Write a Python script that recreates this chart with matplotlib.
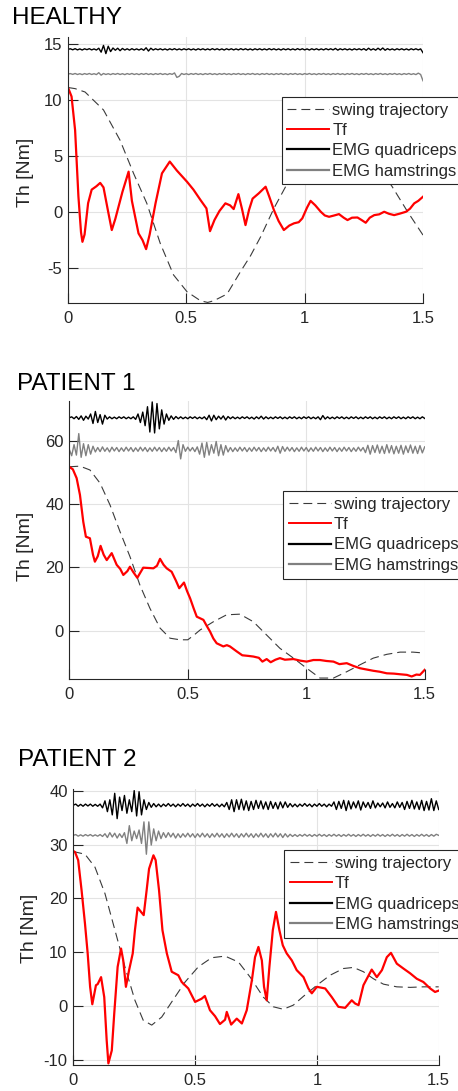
import numpy as np
import matplotlib
matplotlib.use("Agg")
import matplotlib.pyplot as plt

plt.rcParams['font.family'] = ['Liberation Sans', 'DejaVu Sans']
plt.rcParams['axes.unicode_minus'] = False

W, H = 458, 1091

titles = ["HEALTHY", "PATIENT 1", "PATIENT 2"]
legend_labels = ["swing trajectory", "Tf", "EMG quadriceps", "EMG hamstrings"]
x_ticks = [0, 0.5, 1, 1.5]
x_ticklabels = ["0", "0.5", "1", "1.5"]
y_ticks_h = [-5, 0, 5, 10, 15]
y_ticks_p1 = [0, 20, 40, 60]
y_ticks_p2 = [-10, 0, 10, 20, 30, 40]

# ---------------- HEALTHY ----------------
h_swing_t = [0, 0.03, 0.072, 0.15, 0.22, 0.277, 0.333, 0.39, 0.446, 0.503, 0.56, 0.59, 0.616,
             0.672, 0.729, 0.771, 0.814, 0.87, 0.927, 1.0, 1.07, 1.15, 1.23, 1.30, 1.37, 1.435, 1.5]
h_swing_v = [11.1, 11.0, 10.7, 9.1, 6.4, 3.45, 0.78, -2.8, -5.6, -7.1, -7.9, -8.05, -7.9,
             -7.3, -5.3, -3.9, -2.2, 0.33, 2.56, 4.9, 6.3, 6.6, 6.0, 4.4, 2.26, 0.03, -2.05]

h_tf_t = [0, 0.015, 0.03, 0.044, 0.055, 0.061, 0.07, 0.085, 0.1, 0.12, 0.136, 0.15, 0.17, 0.185,
          0.2, 0.23, 0.256, 0.27, 0.298, 0.315, 0.33, 0.345, 0.37, 0.397, 0.43, 0.46, 0.503, 0.53,
          0.56, 0.585, 0.6, 0.619, 0.64, 0.665, 0.685, 0.70, 0.72, 0.735, 0.75, 0.765, 0.78, 0.806,
          0.835, 0.85, 0.87, 0.89, 0.912, 0.935, 0.955, 0.975, 0.99, 1.01, 1.025, 1.045, 1.068,
          1.085, 1.103, 1.125, 1.145, 1.165, 1.181, 1.2, 1.223, 1.24, 1.258, 1.275, 1.294, 1.315,
          1.336, 1.356, 1.378, 1.40, 1.428, 1.445, 1.463, 1.48, 1.5]
h_tf_v = [11.1, 10.3, 7.3, 1.4, -1.8, -2.65, -2.0, 0.8, 2.0, 2.3, 2.6, 2.2, 0.0, -1.6,
          -0.6, 1.8, 3.6, 1.0, -1.9, -2.5, -3.3, -2.0, 0.8, 3.45, 4.5, 3.7, 2.7, 2.0,
          1.07, 0.33, -1.7, -0.7, 0.1, 0.78, 0.6, 0.27, 1.6, 0.3, -1.16, 0.2, 1.2, 1.67,
          2.26, 1.4, 0.18, -0.8, -1.6, -1.2, -1.0, -0.9, -0.56, 0.4, 1.0, 0.6, 0.03,
          -0.3, -0.42, -0.3, -0.18, -0.5, -0.71, -0.5, -0.48, -0.7, -0.95, -0.5, -0.27, -0.2,
          0.03, -0.15, -0.27, -0.15, 0.03, 0.3, 0.78, 1.0, 1.37]

h_quad_base = 14.5
h_quad_dev = [0.00, 0.05, -0.04, 0.06, -0.05, 0.04, -0.06, 0.05, -0.03, 0.06,
              -0.05, 0.04, -0.06, 0.10, -0.25, 0.35, -0.38, 0.28, -0.20, 0.12,
              -0.08, 0.10, -0.12, 0.08, -0.06, 0.05, -0.07, 0.06, -0.05, 0.04,
              -0.06, 0.05, -0.08, 0.14, -0.15, 0.10, -0.06, 0.05, -0.04, 0.05,
              -0.05, 0.04, -0.06, 0.05, -0.04, 0.06, -0.05, 0.04, -0.05, 0.05,
              -0.04, 0.05, -0.05, 0.04, -0.06, 0.05, -0.04, 0.05, -0.05, 0.04,
              -0.05, 0.06, -0.04, 0.05, -0.05, 0.04, -0.06, 0.05, -0.04, 0.05,
              -0.05, 0.04, -0.05, 0.06, -0.04, 0.05, -0.05, 0.04, -0.06, 0.05,
              -0.04, 0.05, -0.05, 0.04, -0.05, 0.06, -0.04, 0.05, -0.05, 0.04,
              -0.06, 0.05, -0.04, 0.05, -0.05, 0.04, -0.05, 0.06, -0.04, 0.05,
              -0.05, 0.04, -0.06, 0.05, -0.04, 0.05, -0.05, 0.04, -0.05, 0.06,
              -0.04, 0.05, -0.05, 0.08, -0.07, 0.05, -0.04, 0.05, -0.05, 0.04,
              -0.06, 0.05, -0.04, 0.05, -0.05, 0.06, -0.08, 0.10, -0.06, 0.05,
              -0.07, 0.10, -0.06, 0.12, -0.08, 0.06, -0.05, 0.04, -0.06, 0.05,
              -0.04, 0.05, -0.05, 0.04, -0.06, 0.05, -0.04, 0.05, -0.05, 0.04,
              -0.30]
h_ham_base = 12.3
h_ham_dev = [0.00, 0.04, -0.03, 0.05, -0.04, 0.03, -0.05, 0.04, -0.03, 0.05,
             -0.04, 0.03, -0.05, 0.12, -0.10, 0.05, -0.04, 0.03, -0.05, 0.04,
             -0.03, 0.05, -0.04, 0.03, -0.05, 0.04, -0.03, 0.05, -0.04, 0.03,
             -0.05, 0.04, -0.03, 0.05, -0.04, 0.03, -0.05, 0.04, -0.03, 0.05,
             -0.04, 0.03, -0.05, 0.04, -0.03, 0.10, -0.30, -0.20, 0.05, -0.04,
             0.03, -0.05, 0.04, -0.03, 0.05, -0.04, 0.03, -0.05, 0.04, -0.03,
             0.05, -0.04, 0.03, -0.05, 0.04, -0.03, 0.05, -0.04, 0.03, -0.05,
             0.04, -0.03, 0.05, -0.04, 0.03, -0.05, 0.04, -0.03, 0.05, -0.04,
             0.03, -0.05, 0.04, -0.03, 0.05, -0.04, 0.03, -0.05, 0.04, -0.03,
             0.05, -0.04, 0.03, -0.05, 0.04, -0.03, 0.05, -0.04, 0.03, -0.05,
             0.04, -0.03, 0.05, -0.04, 0.03, -0.05, 0.04, -0.03, 0.05, -0.04,
             0.03, -0.05, 0.04, -0.03, 0.05, -0.04, 0.03, -0.05, 0.04, -0.03,
             0.05, -0.04, 0.03, -0.05, 0.04, -0.03, 0.05, -0.04, 0.03, -0.05,
             0.04, -0.03, 0.05, -0.04, 0.03, -0.05, 0.04, -0.03, 0.05, -0.04,
             0.03, -0.05, 0.04, -0.03, 0.05, -0.04, 0.03, -0.05, 0.08, -0.04,
             -0.60]

# ---------------- PATIENT 1 ----------------
p1_swing_t = [0, 0.045, 0.087, 0.13, 0.172, 0.214, 0.256, 0.298, 0.34, 0.383, 0.425, 0.467, 0.5,
              0.525, 0.552, 0.608, 0.664, 0.72, 0.777, 0.833, 0.889, 0.946, 1.002, 1.058, 1.115,
              1.171, 1.227, 1.283, 1.34, 1.396, 1.45, 1.5]
p1_swing_v = [51.8, 52.0, 50.8, 46.6, 39.7, 31.3, 23.4, 14.4, 7.1, 0.8, -2.4, -2.9, -2.9,
              -1.5, 0.2, 2.8, 5.0, 5.2, 2.8, -1.4, -5.6, -8.7, -11.9, -15.0, -15.0,
              -13.0, -10.8, -8.7, -7.5, -6.8, -6.8, -7.1]

p1_tf_t = [0, 0.015, 0.031, 0.045, 0.059, 0.07, 0.087, 0.1, 0.108, 0.12, 0.132, 0.145, 0.158,
           0.179, 0.2, 0.215, 0.228, 0.245, 0.256, 0.27, 0.287, 0.312, 0.335, 0.355, 0.37,
           0.383, 0.398, 0.411, 0.432, 0.45, 0.464, 0.484, 0.497, 0.51, 0.525, 0.538, 0.566,
           0.58, 0.594, 0.608, 0.622, 0.65, 0.665, 0.678, 0.707, 0.73, 0.756, 0.777, 0.80,
           0.815, 0.833, 0.85, 0.87, 0.889, 0.91, 0.946, 0.975, 1.002, 1.03, 1.058, 1.085,
           1.115, 1.14, 1.171, 1.20, 1.227, 1.255, 1.283, 1.31, 1.34, 1.37, 1.396, 1.425,
           1.445, 1.465, 1.48, 1.5]
p1_tf_v = [51.8, 51.0, 48.2, 42.9, 34.4, 29.7, 29.2, 24.0, 21.8, 23.5, 26.8, 24.0, 22.3,
           24.5, 20.8, 19.5, 17.6, 18.8, 20.2, 18.5, 16.7, 19.9, 19.8, 19.7, 20.5,
           22.7, 20.8, 19.7, 18.6, 15.8, 13.4, 15.2, 12.5, 10.2, 7.0, 4.4, 3.4,
           1.5, -0.3, -2.5, -4.0, -5.0, -4.6, -5.0, -6.6, -7.8, -8.0, -8.2, -8.6,
           -9.8, -9.0, -10.0, -9.2, -8.7, -9.2, -9.0, -9.5, -9.8, -9.3, -9.3, -9.6,
           -9.8, -10.6, -10.3, -11.2, -11.9, -12.3, -12.7, -13.0, -13.5, -13.6, -13.8, -14.0,
           -14.5, -13.9, -14.0, -12.4]

p1_quad_base = 67.3
p1_quad_dev = [0.0, 0.3, -0.3, 0.4, -0.5, 0.6, -0.8, 0.5, -0.4, 1.2,
               -1.8, 2.0, -1.5, 1.0, -2.0, 0.8, -0.4, 0.3, -0.3, 0.2,
               -0.3, 0.3, -0.2, 0.3, -0.3, 0.2, -0.3, 0.3, -0.5, 1.2,
               -1.5, 1.8, -2.5, 3.5, -4.5, 5.0, -4.8, 4.5, -3.5, 2.5,
               -2.0, 1.2, -0.8, 0.6, -0.5, 0.4, -0.3, 0.3, -0.3, 0.2,
               -0.3, 0.3, -0.2, 0.3, -0.3, 0.2, -0.3, 0.3, -0.6, 0.8,
               -1.0, 0.8, -0.6, 0.5, -0.4, 0.6, -0.7, 0.4, -0.3, 0.3,
               -0.3, 0.2, -0.3, 0.3, -0.2, 0.3, -0.3, 0.2, -0.4, 0.3,
               -0.3, 0.5, -0.4, 0.3, -0.3, 0.2, -0.3, 0.3, -0.2, 0.3,
               -0.3, 0.2, -0.3, 0.3, -0.2, 0.3, -0.3, 0.2, -0.3, 0.3,
               -0.2, 0.3, -0.3, 0.2, -0.3, 0.3, -0.6, 0.7, -0.4, 0.3,
               -0.3, 0.2, -0.3, 0.3, -0.2, 0.3, -0.3, 0.2, -0.3, 0.3,
               -0.2, 0.3, -0.3, 0.2, -0.3, 0.3, -0.2, 0.3, -0.3, 0.2,
               -0.3, 0.3, -0.2, 0.3, -0.3, 0.2, -0.3, 0.3, -0.2, 0.3,
               -0.3, 0.2, -0.3, 0.3, -0.2, 0.3, -0.3, 0.2, -0.3, 0.3,
               -0.2]
p1_ham_base = 57.3
p1_ham_dev = [0.0, -2.0, 1.5, -1.8, 5.0, -2.5, 1.8, -2.0, 1.5, -1.5,
              1.0, -0.8, 0.6, -0.7, 0.8, -0.6, 0.5, -0.8, 0.7, -0.5,
              0.6, -0.7, 0.5, -0.6, 0.7, -0.5, 0.6, -0.7, 0.5, -0.6,
              0.7, -0.5, 0.6, -0.7, 0.5, -0.6, 0.7, -0.5, 0.6, -0.7,
              0.5, -0.6, 0.7, -0.5, 0.6, -1.0, 2.8, -3.0, 1.5, -0.6,
              0.7, -0.5, 0.6, -0.7, 0.8, -1.5, 2.0, -2.5, 2.2, -1.8,
              1.5, -1.2, 2.5, -2.0, 1.5, -1.8, 1.2, -0.8, 0.6, -0.7,
              0.5, -0.6, 0.7, -0.5, 0.6, -0.7, 0.5, -0.6, 0.7, -0.5,
              0.6, -0.7, 0.5, -0.6, 0.7, -0.5, 0.6, -0.7, 1.0, -1.2,
              0.9, -0.6, 0.7, -0.5, 0.6, -0.7, 0.5, -0.6, 0.7, -0.5,
              0.6, -0.7, 0.5, -0.6, 0.7, -0.5, 0.6, -0.7, 0.5, -0.6,
              0.7, -0.5, 0.6, -0.7, 0.5, -0.6, 0.7, -0.5, 0.6, -0.7,
              0.5, -0.6, 0.7, -0.5, 0.6, -1.0, 1.3, -1.5, 1.2, -1.0,
              1.4, -1.2, 1.0, -1.3, 1.5, -1.1, 1.2, -1.4, 1.0, -1.2,
              1.3, -1.5, 1.1, -1.0, 1.4, -1.2, 1.0, -1.3, 1.2, -1.1,
              0.8]

# ---------------- PATIENT 2 ----------------
p2_swing_t = [0, 0.048, 0.089, 0.13, 0.171, 0.212, 0.253, 0.287, 0.322, 0.363, 0.404, 0.459,
              0.513, 0.568, 0.623, 0.678, 0.726, 0.78, 0.821, 0.862, 0.903, 0.945, 1.0, 1.054,
              1.109, 1.15, 1.191, 1.232, 1.273, 1.328, 1.383, 1.437, 1.5]
p2_swing_v = [28.7, 28.2, 25.8, 20.9, 14.1, 7.3, 1.1, -2.6, -3.5, -2.0, 0.8, 4.5,
              7.3, 9.0, 9.3, 8.2, 5.4, 1.7, -0.1, -0.56, 0.2, 1.85, 3.9, 5.75,
              7.0, 7.2, 6.4, 5.1, 4.1, 3.6, 3.5, 3.6, 3.6]

p2_tf_t = [0, 0.007, 0.02, 0.034, 0.048, 0.059, 0.069, 0.078, 0.093, 0.1, 0.114, 0.127, 0.137,
           0.144, 0.158, 0.168, 0.182, 0.196, 0.205, 0.216, 0.229, 0.244, 0.253, 0.264, 0.278,
           0.289, 0.301, 0.311, 0.329, 0.338, 0.352, 0.366, 0.384, 0.404, 0.431, 0.445, 0.472,
           0.5, 0.527, 0.54, 0.561, 0.582, 0.602, 0.623, 0.63, 0.648, 0.671, 0.692, 0.712,
           0.733, 0.746, 0.76, 0.774, 0.783, 0.794, 0.805, 0.819, 0.832, 0.846, 0.86, 0.876,
           0.897, 0.917, 0.945, 0.965, 0.979, 1.0, 1.034, 1.061, 1.088, 1.116, 1.143, 1.157,
           1.171, 1.191, 1.205, 1.225, 1.246, 1.267, 1.287, 1.304, 1.328, 1.355, 1.383, 1.41,
           1.437, 1.465, 1.485, 1.5]
p2_tf_v = [28.8, 28.6, 27.1, 21.5, 15.3, 9.8, 3.6, 0.37, 3.9, 4.1, 5.4, 1.7, -6.3,
           -10.6, -8.2, -1.4, 7.3, 10.7, 8.5, 3.6, 6.7, 9.8, 14.1, 18.3, 17.5,
           16.9, 21.5, 25.5, 28.0, 27.1, 21.5, 14.1, 9.8, 6.4, 5.75, 4.5, 3.3,
           0.8, 1.4, 1.9, -0.74, -1.85, -3.3, -2.5, -1.05, -3.4, -2.3, -3.2, -0.74,
           4.8, 9.1, 11.0, 8.5, 3.6, 1.1, 7.3, 14.1, 17.5, 14.1, 11.3, 9.8,
           8.5, 6.7, 5.4, 3.3, 2.4, 3.6, 3.3, 1.7, -0.1, -0.3, 1.1, 0.5,
           0.2, 3.9, 5.1, 6.8, 5.4, 6.7, 9.1, 9.9, 7.9, 7.0, 6.1, 5.1,
           4.5, 3.3, 2.65, 2.9]

p2_quad_base = 37.3
p2_quad_dev = [0.0, 0.2, -0.2, 0.15, -0.2, 0.2, -0.15, 0.2, -0.2, 0.15,
               -0.2, 0.2, -0.5, 0.8, -1.2, 1.0, -1.8, 2.2, -2.5, 1.5,
               -1.0, 1.8, -1.5, 1.0, -1.2, 2.7, -2.0, 2.5, -1.8, 1.0,
               -0.8, 0.5, -0.4, 0.3, -0.3, 0.2, -0.3, 0.2, -0.2, 0.3,
               -0.2, 0.2, -0.3, 0.2, -0.2, 0.3, -0.2, 0.2, -0.3, 0.2,
               -0.2, 0.3, -0.2, 0.2, -0.3, 0.2, -0.2, 0.3, -0.2, 0.2,
               -0.3, 0.2, -0.3, 0.5, -0.8, 1.0, -1.2, 1.0, -0.8, 1.1,
               -0.9, 0.8, -1.0, 0.7, -0.8, 0.9, -0.6, 0.8, -0.7, 0.6,
               -0.8, 0.7, -0.6, 0.5, -0.7, 0.6, -0.5, 0.6, -0.4, 0.3,
               -0.3, 0.2, -0.3, 0.2, -0.2, 0.3, -0.2, 0.2, -0.3, 0.2,
               -0.2, 0.3, -0.2, 0.2, -0.3, 0.2, -0.2, 0.6, -0.8, 0.7,
               -0.6, 0.9, -1.0, 0.8, -0.7, 0.6, -0.5, 0.8, -0.9, 0.6,
               -0.4, 0.5, -0.6, 0.8, -0.5, 0.4, -0.3, 0.4, -0.5, 0.6,
               -0.4, 0.3, -0.5, 0.6, -0.4, 0.5, -0.8, 0.7, -0.6, 0.9,
               -0.7, 0.6, -0.8, 0.9, -1.0, 0.7, -0.9, 1.2, -1.0, 0.8,
               -0.8]
p2_ham_base = 31.7
p2_ham_dev = [0.0, 0.15, -0.15, 0.1, -0.15, 0.15, -0.1, 0.15, -0.15, 0.1,
              -0.15, 0.15, -0.2, 0.3, -0.4, 0.5, -0.3, 0.4, -0.5, 0.3,
              -0.4, 0.5, -1.5, 1.8, -1.0, 0.8, -0.6, 1.0, -1.5, 2.5,
              -3.5, 2.5, -1.8, 1.2, -1.0, 0.8, -0.6, 0.5, -0.4, 0.5,
              -0.3, 0.4, -0.5, 0.3, -0.4, 0.3, -0.3, 0.4, -0.3, 0.3,
              -0.4, 0.3, -0.3, 0.4, -0.3, 0.3, -0.4, 0.3, -0.3, 0.4,
              -0.3, 0.3, -0.4, 0.3, -0.3, 0.4, -0.3, 0.3, -0.4, 0.3,
              -0.3, 0.4, -0.3, 0.3, -0.4, 0.3, -0.3, 0.4, -0.3, 0.3,
              -0.4, 0.3, -0.3, 0.4, -0.3, 0.3, -0.4, 0.3, -0.3, 0.2,
              -0.2, 0.15, -0.2, 0.15, -0.15, 0.2, -0.15, 0.15, -0.2, 0.15,
              -0.15, 0.2, -0.15, 0.15, -0.2, 0.15, -0.15, 0.2, -0.15, 0.15,
              -0.2, 0.15, -0.15, 0.2, -0.15, 0.15, -0.2, 0.15, -0.15, 0.2,
              -0.15, 0.15, -0.2, 0.15, -0.15, 0.2, -0.15, 0.15, -0.2, 0.15,
              -0.15, 0.2, -0.15, 0.15, -0.2, 0.15, -0.15, 0.2, -0.15, 0.15,
              -0.2, 0.15, -0.15, 0.2, -0.15, 0.15, -0.2, 0.15, -0.15, 0.2,
              0.0]

emg_t = np.linspace(0, 1.5, 151)

panels = [
    dict(title=titles[0], swing=(h_swing_t, h_swing_v), tf=(h_tf_t, h_tf_v),
         quad=(h_quad_base, h_quad_dev), ham=(h_ham_base, h_ham_dev),
         ylim=(-8.1, 15.6), yticks=y_ticks_h,
         box=(68, 423, 37, 303), title_xy=(12, 24.3), ylab_xy=(25, 172), leg_xy=(281.5, 96.7)),
    dict(title=titles[1], swing=(p1_swing_t, p1_swing_v), tf=(p1_tf_t, p1_tf_v),
         quad=(p1_quad_base, p1_quad_dev), ham=(p1_ham_base, p1_ham_dev),
         ylim=(-15.3, 72.7), yticks=y_ticks_p1,
         box=(69.3, 424.7, 400.7, 679), title_xy=(17, 390), ylab_xy=(26, 546), leg_xy=(283, 491)),
    dict(title=titles[2], swing=(p2_swing_t, p2_swing_v), tf=(p2_tf_t, p2_tf_v),
         quad=(p2_quad_base, p2_quad_dev), ham=(p2_ham_base, p2_ham_dev),
         ylim=(-10.9, 40.3), yticks=y_ticks_p2,
         box=(73.3, 438.7, 789, 1065), title_xy=(18, 766), ylab_xy=(30, 928), leg_xy=(284, 850)),
]

fig = plt.figure(figsize=(W / 100, H / 100), dpi=100)
axis_col = '#262626'

for p in panels:
    l, r, t, b = p['box']
    ax = fig.add_axes([l / W, 1 - b / H, (r - l) / W, (b - t) / H])
    ls, = ax.plot(p['swing'][0], p['swing'][1], color='#3a3a3a', lw=0.8,
                  linestyle=(0, (8, 4.5)), label=legend_labels[0])
    lt, = ax.plot(p['tf'][0], p['tf'][1], color='#ff0000', lw=1.6, label=legend_labels[1])
    lq, = ax.plot(emg_t, p['quad'][0] + np.array(p['quad'][1]), color='black', lw=1.0,
                  label=legend_labels[2])
    lh, = ax.plot(emg_t, p['ham'][0] + np.array(p['ham'][1]), color='#808080', lw=1.0,
                  label=legend_labels[3])
    ax.set_xlim(0, 1.5)
    ax.set_ylim(*p['ylim'])
    ax.set_xticks(x_ticks)
    ax.set_xticklabels(x_ticklabels)
    ax.set_yticks(p['yticks'])
    ax.grid(True, color='#e3e3e3', lw=0.8)
    ax.set_axisbelow(True)
    for s in ['top', 'right']:
        ax.spines[s].set_visible(False)
    for s in ['left', 'bottom']:
        ax.spines[s].set_color(axis_col)
        ax.spines[s].set_linewidth(0.8)
    ax.tick_params(direction='in', length=7, width=0.8, color=axis_col,
                   labelsize=12, labelcolor=axis_col)
    ax.tick_params(axis='x', pad=6)
    ax.tick_params(axis='y', pad=4)
    fig.text(p['title_xy'][0] / W, 1 - p['title_xy'][1] / H, p['title'],
             fontsize=17.5, ha='left', va='baseline', color='black')
    fig.text(p['ylab_xy'][0] / W, 1 - p['ylab_xy'][1] / H, 'Th [Nm]', rotation=90,
             fontsize=14, ha='center', va='center', color=axis_col)
    leg = ax.legend(handles=[ls, lt, lq, lh], loc='upper left',
                    bbox_to_anchor=(p['leg_xy'][0] / W, 1 - p['leg_xy'][1] / H),
                    bbox_transform=fig.transFigure, borderaxespad=0,
                    fontsize=12, handlelength=2.5, handletextpad=0.2,
                    borderpad=0.35, labelspacing=0.32, fancybox=False,
                    framealpha=1, edgecolor=axis_col)
    leg.get_frame().set_linewidth(0.8)
    for txt in leg.get_texts():
        txt.set_color(axis_col)
    for hl in leg.get_lines():
        if hl.get_label() == legend_labels[1]:
            hl.set_linewidth(1.4)
        elif hl.get_label() != legend_labels[0]:
            hl.set_linewidth(1.6)

fig.savefig('out.png', dpi=100)
